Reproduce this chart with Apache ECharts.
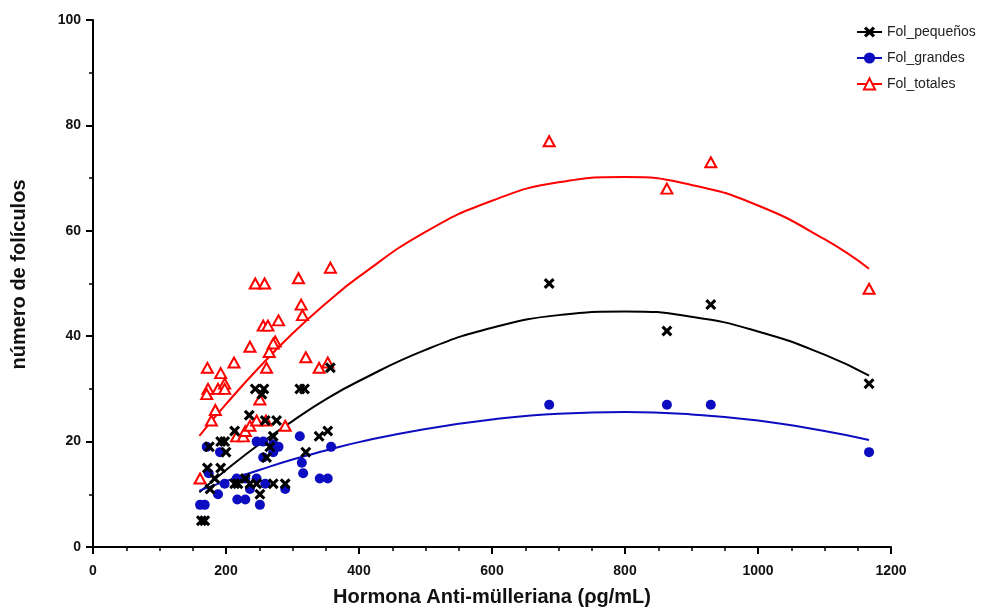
<!DOCTYPE html>
<html>
<head>
<meta charset="utf-8">
<script src="https://cdn.jsdelivr.net/npm/echarts@6/dist/echarts.min.js"></script>
<style>html,body{margin:0;padding:0;background:#fff}#c{width:991px;height:612px}</style>
</head>
<body>
<div id="c"></div>
<script>
// ---- data ----
const smallX = [163,168,176,183,172,192,175,192,198,200,213,235,244,257,254,259,276,271,266,261,218,229,236,246,251,213,271,289,311,318,357,340,353,320,686,863,929,1167];
const smallY = [5,5,11,13,15,15,19,20,20,18,22,25,30,30,29,24,24,21,19,17,12,13,12,12,10,12,12,12,30,30,34,21,22,18,50,41,46,31];

const largeX = [161,168,171,191,174,188,198,216,229,246,217,229,251,236,259,246,256,271,279,271,256,289,311,358,314,316,341,353,686,863,929,1167];
const largeY = [8,8,19,18,14,10,12,13,13,13,9,9,8,11,12,20,20,19.5,19,18,17,11,21,19,16,14,13,13,27,27,27,18];

const totalX = [161,172,173,171,188,192,198,198,184,178,212,216,226,229,236,246,251,260,289,236,244,258,256,263,274,271,279,265,261,309,313,315,320,340,353,357,686,863,929,1167];
const totalY = [13,34,30,29,30,33,31,30,26,24,35,21,21,22,23,24,28,24,23,38,50,50,42,42,39,38.6,43,37,34,51,46,44,36,34,35,53,77,68,73,49];

// fitted curves
const fitX      = [160,200,250,300,350,400,500,600,700,800,900,1000,1100,1167];
const fitSmall  = [10.4,14.6,19.5,23.9,28.0,31.5,37.4,41.6,44.0,44.7,43.7,40.9,36.5,32.5];
const fitLarge  = [10.7,12.5,14.6,16.6,18.3,19.9,22.4,24.2,25.3,25.6,25.15,24.0,22.0,20.3];
const fitTotal  = [21.1,27.1,34.1,40.5,46.2,51.3,59.8,65.7,69.2,70.2,68.7,64.8,58.4,52.8];

const xTicks = [0,200,400,600,800,1000,1200];
const yTicks = [0,20,40,60,80,100];
const names = ['Fol_pequeños','Fol_grandes','Fol_totales'];

// ---- chart ----
const zip = (a,b) => a.map((v,i)=>[v,b[i]]);
const FONT = 'Arial, "Liberation Sans", sans-serif';
const BLACK = '#000000', BLUE = '#0c0cc0', RED = '#ff0000';
const XSYM = 'path://M2,0 L5,3 L8,0 L10,2 L7,5 L10,8 L8,10 L5,7 L2,10 L0,8 L3,5 L0,2 Z';

const chart = echarts.init(document.getElementById('c'), null, {renderer:'canvas'});
const axisCommon = {
  axisLine:{show:true, onZero:false, lineStyle:{color:'#000', width:2}},
  axisTick:{show:true, inside:false, length:7, lineStyle:{color:'#000', width:2}},
  minorTick:{show:true, splitNumber:4, length:4, lineStyle:{color:'#000', width:1.5}},
  splitLine:{show:false},
  axisLabel:{color:'#111', fontFamily:FONT, fontWeight:'bold', fontSize:14, formatter:(v)=>String(v)},
  nameTextStyle:{color:'#111', fontFamily:FONT, fontWeight:'bold', fontSize:20}
};
chart.setOption({
  animation:false,
  backgroundColor:'#fff',
  grid:{left:93, right:100, top:20, bottom:59, containLabel:false},
  legend:{
    data:names, orient:'vertical', left:851, top:20,
    itemWidth:25, itemHeight:14, itemGap:12,
    textStyle:{fontFamily:FONT, fontSize:14, color:'#222'}
  },
  xAxis:Object.assign({}, axisCommon, {
    type:'value', min:xTicks[0], max:xTicks[xTicks.length-1], interval:200,
    name:'Hormona Anti-mülleriana (ρg/mL)', nameLocation:'middle', nameGap:40,
    axisLabel:Object.assign({}, axisCommon.axisLabel, {margin:17})
  }),
  yAxis:Object.assign({}, axisCommon, {
    type:'value', min:yTicks[0], max:yTicks[yTicks.length-1], interval:20,
    name:'número de folículos', nameLocation:'middle', nameGap:64,
    nameTextStyle:Object.assign({}, axisCommon.nameTextStyle, {padding:[0,0,0,18]}),
    minorTick:{show:true, splitNumber:2, length:4, lineStyle:{color:'#000', width:1.5}},
    axisLabel:Object.assign({}, axisCommon.axisLabel, {margin:12})
  }),
  series:[
    {name:names[0], type:'line', data:zip(fitX,fitSmall), smooth:0.5, symbol:XSYM, showSymbol:false,
     lineStyle:{color:BLACK, width:2}, itemStyle:{color:BLACK}, z:2},
    {name:names[1], type:'line', data:zip(fitX,fitLarge), smooth:0.5, symbol:'circle', showSymbol:false,
     lineStyle:{color:BLUE, width:2}, itemStyle:{color:BLUE}, z:2},
    {name:names[2], type:'line', data:zip(fitX,fitTotal), smooth:0.5, symbol:'emptyTriangle', showSymbol:false,
     lineStyle:{color:RED, width:2}, itemStyle:{color:RED}, z:2},
    {name:names[2], type:'scatter', data:zip(totalX,totalY), symbol:'emptyTriangle', symbolSize:[11,10],
     itemStyle:{color:RED, borderColor:RED, borderWidth:2, opacity:1}, z:3},
    {name:names[1], type:'scatter', data:zip(largeX,largeY), symbol:'circle', symbolSize:10,
     itemStyle:{color:BLUE, opacity:1}, z:3},
    {name:names[0], type:'scatter', data:zip(smallX,smallY), symbol:XSYM, symbolSize:11,
     itemStyle:{color:BLACK, opacity:1}, z:4}
  ]
});
</script>
</body>
</html>
